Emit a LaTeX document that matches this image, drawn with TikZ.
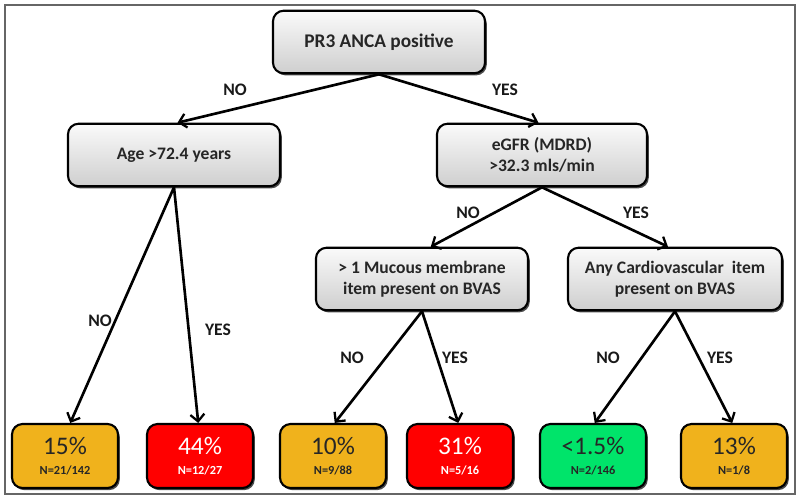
\documentclass[tikz,border=0pt]{standalone}
\usepackage{fontspec}
\setmainfont{Carlito}
\usepackage{tikz}
\usetikzlibrary{shapes,shadows,arrows.meta}
\definecolor{leafamber}{RGB}{240,178,28}
\definecolor{leafred}{RGB}{255,0,0}
\definecolor{leafgreen}{RGB}{0,228,106}
\begin{document}
\begin{tikzpicture}[
  splitbox/.style={rectangle,rounded corners=6pt,draw=black,line width=1.2pt,
    top color=gray!4,bottom color=gray!38,align=center,font=\bfseries,
    text=black!85,minimum width=4.24cm,minimum height=1.25cm,
    drop shadow={shadow xshift=1pt,shadow yshift=-1.2pt,fill=black!70,opacity=1}},
  leafbox/.style={rectangle,rounded corners=6pt,draw=black,line width=1.2pt,
    align=center,minimum width=2.12cm,minimum height=1.28cm,
    drop shadow={shadow xshift=1pt,shadow yshift=-1.2pt,fill=black!70,opacity=1}},
  branch/.style={-{Straight Barb[length=4pt,width=8pt,line width=1.3pt]},line width=1.5pt},
  answer/.style={font=\bfseries,text=black!90}]
\useasboundingbox (0,0) rectangle (16,-10.04);
\draw [gray!80!black,line width=1pt] (0.1,-0.1) rectangle (15.9,-9.88);
%Node Coordinates
\node at (7.58,-0.84) [splitbox,font=\bfseries\fontsize{11}{13}\selectfont] (Root) {PR3 ANCA positive};
\node at (3.48,-3.1) [splitbox] (Age) {Age >72.4 years};
\node at (10.84,-3.1) [splitbox,minimum width=4.2cm] (Egfr) {eGFR (MDRD)\\>32.3 mls/min};
\node at (8.44,-5.58) [splitbox] (Mucous) {> 1 Mucous membrane\\item present on BVAS};
\node at (13.5,-5.58) [splitbox,minimum width=4.28cm] (Cardio) {Any Cardiovascular~ item\\present on BVAS};
%Leaves
\node at (1.3,-9.12) [leafbox,fill=leafamber,text=black!85] (LeafA) {\Large 15\%\\[-1pt]\bfseries\scriptsize N=21/142};
\node at (4.0,-9.12) [leafbox,fill=leafred,text=white] (LeafB) {\Large 44\%\\[-1pt]\bfseries\scriptsize N=12/27};
\node at (6.66,-9.12) [leafbox,fill=leafamber,text=black!85] (LeafC) {\Large 10\%\\[-1pt]\bfseries\scriptsize N=9/88};
\node at (9.2,-9.12) [leafbox,fill=leafred,text=white] (LeafD) {\Large 31\%\\[-1pt]\bfseries\scriptsize N=5/16};
\node at (11.86,-9.12) [leafbox,fill=leafgreen,text=black!85] (LeafE) {\Large <1.5\%\\[-1pt]\bfseries\scriptsize N=2/146};
\node at (14.68,-9.12) [leafbox,fill=leafamber,text=black!85] (LeafF) {\Large 13\%\\[-1pt]\bfseries\scriptsize N=1/8};
%Connections
\draw [branch] (Root.south) -- ([xshift=2pt]Age.north);
\draw [branch] (Root.south) -- ([xshift=-2pt]Egfr.north);
\draw [branch] (Age.south) -- ([xshift=3pt]LeafA.north);
\draw [branch] (Age.south) -- ([xshift=-1pt]LeafB.north);
\draw [branch] (Egfr.south) -- ([xshift=5pt]Mucous.north);
\draw [branch] (Egfr.south) -- ([xshift=-4pt]Cardio.north);
\draw [branch] (Mucous.south) -- ([xshift=1pt]LeafC.north);
\draw [branch] (Mucous.south) -- ([xshift=-1pt]LeafD.north);
\draw [branch] (Cardio.south) -- ([xshift=1pt]LeafE.north);
\draw [branch] (Cardio.south) -- ([xshift=-1pt]LeafF.north);
% Branch labels
\node at (4.7,-1.8) [answer] (NoRoot) {NO};
\node at (10.1,-1.8) [answer] (YesRoot) {YES};
\node at (2.0,-6.42) [answer] (NoAge) {NO};
\node at (4.36,-6.6) [answer] (YesAge) {YES};
\node at (9.36,-4.26) [answer] (NoEgfr) {NO};
\node at (12.72,-4.26) [answer] (YesEgfr) {YES};
\node at (7.04,-7.16) [answer] (NoMucous) {NO};
\node at (9.1,-7.16) [answer] (YesMucous) {YES};
\node at (12.16,-7.16) [answer] (NoCardio) {NO};
\node at (14.4,-7.16) [answer] (YesCardio) {YES};
\end{tikzpicture}
\end{document}
